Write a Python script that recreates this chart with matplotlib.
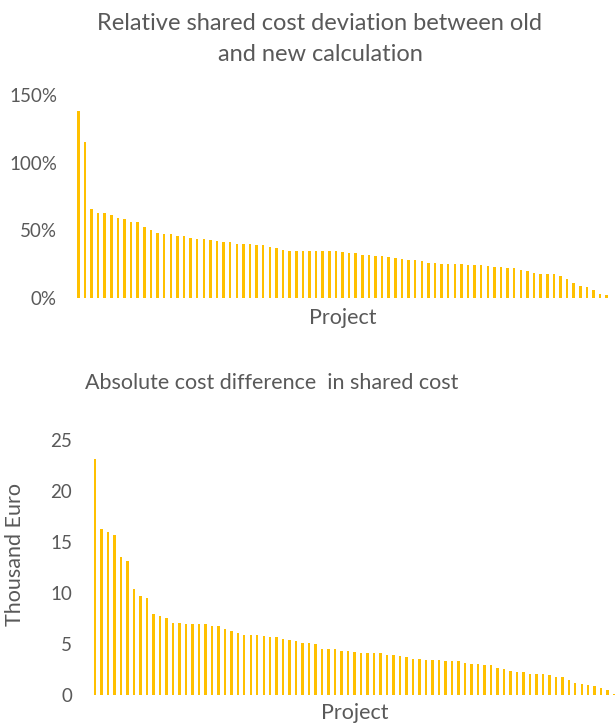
import matplotlib
matplotlib.use("Agg")
import matplotlib.pyplot as plt
import numpy as np

# Relative deviation of shared cost per project (fraction, sorted descending)
relative_deviation = [
    1.382, 1.152, 0.655, 0.630, 0.630, 0.613, 0.593, 0.583, 0.563, 0.563,
    0.522, 0.504, 0.477, 0.470, 0.470, 0.459, 0.455, 0.442, 0.432, 0.432,
    0.425, 0.420, 0.415, 0.410, 0.397, 0.397, 0.397, 0.392, 0.392, 0.375,
    0.370, 0.353, 0.348, 0.348, 0.348, 0.348, 0.348, 0.346, 0.343, 0.343,
    0.338, 0.333, 0.333, 0.316, 0.316, 0.311, 0.311, 0.301, 0.293, 0.283,
    0.279, 0.277, 0.271, 0.256, 0.256, 0.251, 0.247, 0.247, 0.247, 0.242,
    0.242, 0.242, 0.237, 0.229, 0.229, 0.219, 0.217, 0.202, 0.195, 0.185,
    0.175, 0.175, 0.175, 0.158, 0.140, 0.108, 0.085, 0.078, 0.056, 0.026,
    0.019,
]

# Absolute difference in shared cost per project (thousand euro, sorted descending)
absolute_difference = [
    23.17, 16.28, 16.02, 15.72, 13.57, 13.18, 10.35, 9.73, 9.54, 7.91,
    7.71, 7.55, 7.06, 7.06, 7.00, 7.00, 6.93, 6.93, 6.77, 6.77,
    6.48, 6.32, 6.05, 5.92, 5.86, 5.86, 5.79, 5.73, 5.73, 5.50,
    5.43, 5.34, 5.11, 5.11, 4.98, 4.52, 4.52, 4.52, 4.36, 4.33,
    4.26, 4.07, 4.07, 4.07, 4.07, 3.91, 3.91, 3.84, 3.74, 3.55,
    3.55, 3.42, 3.42, 3.42, 3.29, 3.29, 3.29, 3.13, 3.00, 3.00,
    2.93, 2.93, 2.60, 2.54, 2.31, 2.25, 2.25, 2.08, 2.08, 2.02,
    1.95, 1.79, 1.79, 1.46, 1.17, 1.04, 0.98, 0.88, 0.65, 0.52,
    0.13,
]

rel_ticks = [0, 0.5, 1.0, 1.5]
rel_tick_labels = ["0%", "50%", "100%", "150%"]
abs_ticks = [0, 5, 10, 15, 20, 25]
abs_tick_labels = ["0", "5", "10", "15", "20", "25"]

BAR = "#FFC000"
TXT = "#595959"
FONT = ["Lato", "DejaVu Sans"]
plt.rcParams["font.family"] = FONT

W, H = 616, 726
fig = plt.figure(figsize=(W / 100, H / 100), dpi=100)


def px_axes(left, top, right, bottom):
    return fig.add_axes([left / W, 1 - bottom / H, (right - left) / W, (bottom - top) / H])


def style(ax):
    for s in ax.spines.values():
        s.set_visible(False)
    ax.tick_params(length=0, colors=TXT, labelsize=13.5)
    ax.set_xticks([])


# Top chart: relative deviation
ax1 = px_axes(75, 95.5, 610, 297.5)
x1 = np.arange(len(relative_deviation))
ax1.bar(x1, relative_deviation, width=0.38, color=BAR)
ax1.set_xlim(-0.5, len(relative_deviation) - 0.5)
ax1.set_ylim(0, 1.5)
ax1.set_yticks(rel_ticks)
ax1.set_yticklabels(rel_tick_labels)
style(ax1)
ax1.tick_params(axis="y", pad=13)
fig.text(320 / W, 1 - 39 / H, "Relative shared cost deviation between old\nand new calculation",
         ha="center", va="center", color=TXT, fontsize=17, linespacing=1.55)
fig.text(343 / W, 1 - 318 / H, "Project", ha="center", va="center", color=TXT, fontsize=15.5)

# Bottom chart: absolute difference
ax2 = px_axes(91.75, 440, 616, 695)
x2 = np.arange(len(absolute_difference))
ax2.bar(x2, absolute_difference, width=0.38, color=BAR)
ax2.set_xlim(-0.5, -0.5 + (616 - 91.75) / 6.49)
ax2.set_ylim(0, 25)
ax2.set_yticks(abs_ticks)
ax2.set_yticklabels(abs_tick_labels)
style(ax2)
ax2.tick_params(axis="y", pad=14)
fig.text(272 / W, 1 - 383 / H, "Absolute cost difference  in shared cost",
         ha="center", va="center", color=TXT, fontsize=15.5)
fig.text(355 / W, 1 - 713 / H, "Project", ha="center", va="center", color=TXT, fontsize=15.5)
fig.text(15 / W, 1 - 555 / H, "Thousand Euro", ha="center", va="center", rotation=90,
         color=TXT, fontsize=15.5)

fig.savefig("out.png", dpi=100, facecolor="white")
